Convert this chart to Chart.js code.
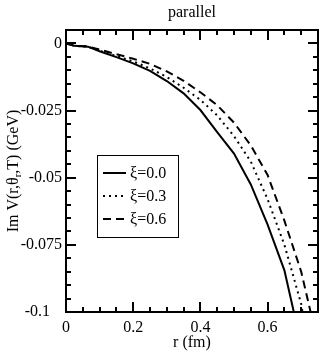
<!DOCTYPE html>
<html lang="en">
<head>
<meta charset="UTF-8">
<title>parallel</title>
<script src="https://cdn.jsdelivr.net/npm/chart.js"></script>
<style>
  html, body { margin: 0; padding: 0; background: #fff; }
  #wrap { width: 322px; height: 354px; }
</style>
</head>
<body>
<div id="wrap"><canvas id="chart"></canvas></div>
<script>
// labels
const titleText = 'parallel';
const xTitle = 'r (fm)';
const seriesNames = ['ξ=0.0', 'ξ=0.3', 'ξ=0.6'];

// tick values / labels
const xTicks = [0, 0.2, 0.4, 0.6];
const xTickLabels = ['0', '0.2', '0.4', '0.6'];
const yTicks = [0, -0.025, -0.05, -0.075, -0.1];
const yTickLabels = ['0', '-0.025', '-0.05', '-0.075', '-0.1'];

// xi = 0.0 (solid)
const r0 = [0, 0.025, 0.065, 0.1, 0.15, 0.2, 0.25, 0.3, 0.35, 0.4, 0.45, 0.5, 0.55, 0.6, 0.65, 0.678];
const v0 = [0, -0.0009, -0.0012, -0.0029, -0.0051, -0.0074, -0.0102, -0.0140, -0.0186, -0.0248, -0.0330, -0.0410, -0.0525, -0.0675, -0.0845, -0.1];
// xi = 0.3 (dotted)
const r3 = [0, 0.025, 0.065, 0.1, 0.15, 0.2, 0.25, 0.3, 0.35, 0.4, 0.45, 0.5, 0.55, 0.6, 0.65, 0.7, 0.704];
const v3 = [0, -0.0009, -0.0012, -0.0027, -0.0047, -0.0067, -0.0093, -0.0125, -0.0165, -0.0210, -0.0268, -0.0345, -0.0440, -0.0580, -0.0750, -0.0970, -0.1];
// xi = 0.6 (dashed)
const r6 = [0, 0.025, 0.065, 0.1, 0.15, 0.2, 0.25, 0.3, 0.35, 0.4, 0.45, 0.5, 0.55, 0.6, 0.65, 0.7, 0.728];
const v6 = [0, -0.0009, -0.0011, -0.0023, -0.0040, -0.0057, -0.0076, -0.0104, -0.0139, -0.0182, -0.0230, -0.0295, -0.0380, -0.0490, -0.0660, -0.0850, -0.1];

const dashes = [[], [2, 4], [8, 5]];
const FONT = "'Liberation Serif', 'Times New Roman', serif";

function pts(xs, ys) {
    return xs.map((x, i) => ({ x: x, y: ys[i] }));
}

// frame, inward ticks, titles and legend
const framePlugin = {
    id: 'frame',
    afterDraw(chart) {
        const ctx = chart.ctx;
        const a = chart.chartArea;
        const xs = chart.scales.x, ys = chart.scales.y;
        ctx.save();
        ctx.strokeStyle = '#000';
        ctx.lineWidth = 2;
        ctx.strokeRect(a.left, a.top, a.right - a.left, a.bottom - a.top);

        // ticks (major + minor) on all four sides
        ctx.beginPath();
        for (let i = 0; i <= 15; i++) {
            const v = i * 0.05;
            const len = i % 4 === 0 ? 10 : 5;
            const px = Math.round(xs.getPixelForValue(v));
            if (px < a.left || px > a.right) continue;
            ctx.moveTo(px, a.bottom); ctx.lineTo(px, a.bottom - len);
            ctx.moveTo(px, a.top); ctx.lineTo(px, a.top + len);
        }
        for (let i = 0; i <= 21; i++) {
            const v = -0.1 + i * 0.005;
            const len = i % 5 === 0 ? 10 : 5;
            const py = Math.round(ys.getPixelForValue(v));
            if (py < a.top || py > a.bottom) continue;
            ctx.moveTo(a.left, py); ctx.lineTo(a.left + len, py);
            ctx.moveTo(a.right, py); ctx.lineTo(a.right - len, py);
        }
        ctx.stroke();

        // title and axis titles
        ctx.fillStyle = '#000';
        ctx.font = '16px ' + FONT;
        ctx.textAlign = 'center';
        ctx.textBaseline = 'middle';
        ctx.fillText(titleText, (a.left + a.right) / 2, 13);
        ctx.fillText(xTitle, (a.left + a.right) / 2, 343);

        // y title with subscript r
        const p1 = 'Im V(r,θ', sub = 'r', p2 = ',T) (GeV)';
        ctx.font = '16px ' + FONT;
        const w1 = ctx.measureText(p1).width, w3 = ctx.measureText(p2).width;
        ctx.font = '11px ' + FONT;
        const w2 = ctx.measureText(sub).width;
        const total = w1 + w2 + w3;
        ctx.translate(13, (a.top + a.bottom) / 2);
        ctx.rotate(-Math.PI / 2);
        ctx.textAlign = 'left';
        ctx.textBaseline = 'alphabetic';
        ctx.font = '16px ' + FONT;
        ctx.fillText(p1, -total / 2, 5);
        ctx.font = '11px ' + FONT;
        ctx.fillText(sub, -total / 2 + w1, 8);
        ctx.font = '16px ' + FONT;
        ctx.fillText(p2, -total / 2 + w1 + w2, 5);
        ctx.setTransform(1, 0, 0, 1, 0, 0);

        // legend box
        ctx.lineWidth = 1;
        ctx.strokeRect(97.5, 155.5, 81, 82);
        ctx.font = '16px ' + FONT;
        ctx.textAlign = 'left';
        ctx.textBaseline = 'middle';
        chart.data.datasets.forEach((ds, i) => {
            const y = 173 + i * 23;
            ctx.lineWidth = 2;
            ctx.setLineDash(ds.borderDash || []);
            ctx.beginPath();
            ctx.moveTo(103, y); ctx.lineTo(126, y);
            ctx.stroke();
            ctx.setLineDash([]);
            ctx.fillText(ds.label, 130, y + 1);
        });
        ctx.restore();
    }
};

const datasets = [pts(r0, v0), pts(r3, v3), pts(r6, v6)].map((d, i) => ({
    label: seriesNames[i],
    data: d,
    borderColor: '#000',
    borderWidth: 2,
    borderDash: dashes[i],
    pointRadius: 0,
    fill: false,
    tension: 0
}));

const config = {
    type: 'line',
    data: { datasets: datasets },
    options: {
        responsive: true,
        maintainAspectRatio: false,
        animation: false,
        layout: { padding: { top: 30, right: 4, left: 0, bottom: 0 } },
        scales: {
            x: {
                type: 'linear',
                min: 0,
                max: 0.75,
                afterBuildTicks: s => { s.ticks = xTicks.map(v => ({ value: v })); },
                afterFit: s => { s.height = 42; },
                grid: { display: false, drawTicks: false },
                border: { display: false },
                ticks: {
                    color: '#000',
                    font: { family: FONT, size: 16 },
                    padding: 6,
                    maxRotation: 0,
                    callback: (v, i) => xTickLabels[i]
                }
            },
            y: {
                type: 'linear',
                min: -0.1,
                max: 0.005,
                afterBuildTicks: s => { s.ticks = yTicks.map(v => ({ value: v })); },
                afterFit: s => { s.width = 66; },
                grid: { display: false, drawTicks: false },
                border: { display: false },
                ticks: {
                    color: '#000',
                    font: { family: FONT, size: 16 },
                    padding: 4,
                    // bottom label sits a little left, clear of the x "0"
                    callback: (v, i) => i === yTicks.length - 1 ? yTickLabels[i] + '   ' : yTickLabels[i]
                }
            }
        },
        plugins: {
            legend: { display: false },
            tooltip: { enabled: false },
            title: { display: false }
        }
    },
    plugins: [framePlugin]
};

new Chart(document.getElementById('chart'), config);
</script>
</body>
</html>
